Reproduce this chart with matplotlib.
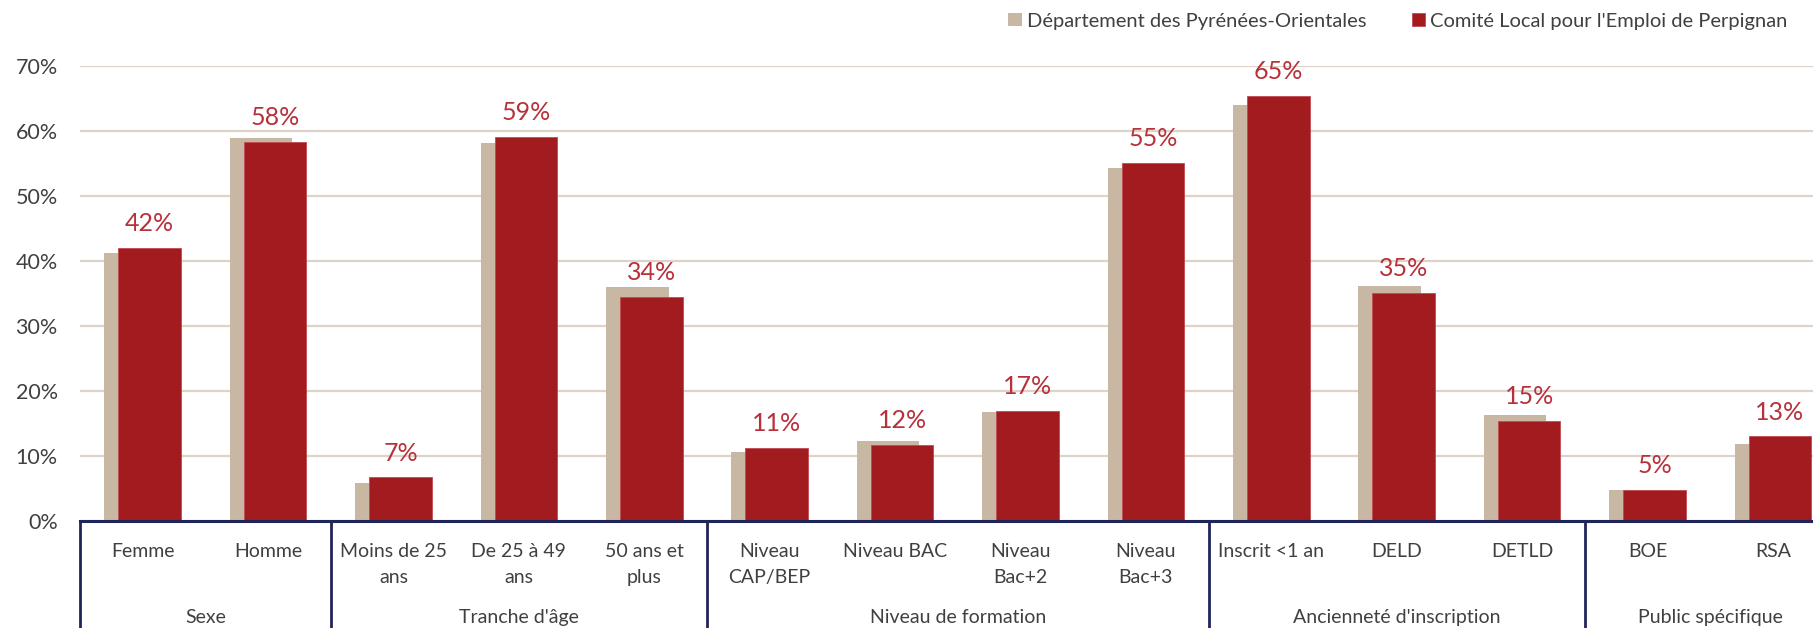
import matplotlib.pyplot as plt
import numpy as np

# === DONNÉES ===
categories = ["Femme", "Homme", "Moins de 25\nans", "De 25 à 49\nans", "50 ans et\nplus",
              "Niveau\nCAP/BEP", "Niveau BAC", "Niveau\nBac+2", "Niveau\nBac+3",
              "Inscrit <1 an", "DELD", "DETLD", "BOE", "RSA"]
groupes = ["Sexe", "Tranche d'âge", "Niveau de formation",
           "Ancienneté d'inscription", "Public spécifique"]
taille_groupes = [2, 3, 4, 3, 2]

dept_po = [41.2, 58.9, 5.8, 58.1, 36.0, 10.6, 12.3, 16.7, 54.3, 64.0, 36.1, 16.3, 4.7, 11.9]
cle_perpignan = [42.0, 58.3, 6.7, 59.0, 34.4, 11.2, 11.7, 16.9, 55.0, 65.3, 35.1, 15.4, 4.8, 13.0]

serie_1 = "Département des Pyrénées-Orientales"
serie_2 = "Comité Local pour l'Emploi de Perpignan"

# === STYLE ===
beige = "#C8B8A3"
rouge = "#A21B1F"
rouge_txt = "#B8303A"
bleu_axe = "#1F2559"
grille = "#DDD4C9"
gris_txt = "#404040"
plt.rcParams['font.family'] = ['Lato', 'DejaVu Sans']

W, H = 1813, 628
fig = plt.figure(figsize=(W / 100, H / 100), dpi=100)
pas = 125.4
ax = fig.add_axes([80 / W, 107 / H, 14 * pas / W, 455.5 / H])

x = np.arange(len(categories))
largeur = 0.5
decal = 0.056

ax.bar(x - decal, dept_po, width=largeur, color=beige, zorder=2, label=serie_1)
barres = ax.bar(x + decal, cle_perpignan, width=largeur, color=rouge,
                edgecolor="#C04A50", linewidth=0.6, zorder=3, label=serie_2)

for xi, v in zip(x, cle_perpignan):
    ax.annotate(f"{round(v)}%", xy=(xi + decal, v), xytext=(0, 12),
                textcoords="offset points", ha="center", va="baseline",
                fontsize=18, color=rouge_txt)

# Axes
ax.set_xlim(-0.5, len(categories) - 0.5)
ax.set_ylim(0, 70)
ax.set_yticks(range(0, 71, 10))
ax.set_yticklabels([f"{t}%" for t in range(0, 71, 10)], fontsize=15.5, color=gris_txt)
ax.tick_params(axis="y", length=0, pad=16)
ax.set_xticks([])
ax.yaxis.grid(True, color=grille, linewidth=1.6, zorder=0)
ax.set_axisbelow(True)
for s in ["top", "right", "left"]:
    ax.spines[s].set_visible(False)
ax.spines["bottom"].set_color(bleu_axe)
ax.spines["bottom"].set_linewidth(2.2)
ax.spines["bottom"].set_zorder(4)

# Axe des catégories à deux niveaux
trans = ax.get_xaxis_transform()
for xi, lab in zip(x, categories):
    for k, ligne in enumerate(lab.split("\n")):
        ax.annotate(ligne, xy=(xi, 0), xycoords=trans, xytext=(0, -22.3 - 18.7 * k),
                    textcoords="offset points", ha="center", va="center",
                    fontsize=14, color=gris_txt, annotation_clip=False)

bornes = np.concatenate([[0], np.cumsum(taille_groupes)]) - 0.5
for b in bornes:
    ax.plot([b, b], [0, -0.25], transform=trans, color=bleu_axe,
            linewidth=2, clip_on=False, solid_capstyle="butt")
for g, (a, b) in zip(groupes, zip(bornes[:-1], bornes[1:])):
    ax.annotate(g, xy=((a + b) / 2, 0), xycoords=trans, xytext=(0, -69.8),
                textcoords="offset points", ha="center", va="center",
                fontsize=14, color=gris_txt, annotation_clip=False)

# Légende
fig.legend(ncol=2, loc="center right", bbox_to_anchor=(1806 / W, 1 - 21 / H),
           frameon=False, fontsize=14.5, handlelength=0.65, handleheight=0.65,
           handletextpad=0.25, columnspacing=2.3, labelcolor=gris_txt)

fig.savefig("out.png", dpi=100)
